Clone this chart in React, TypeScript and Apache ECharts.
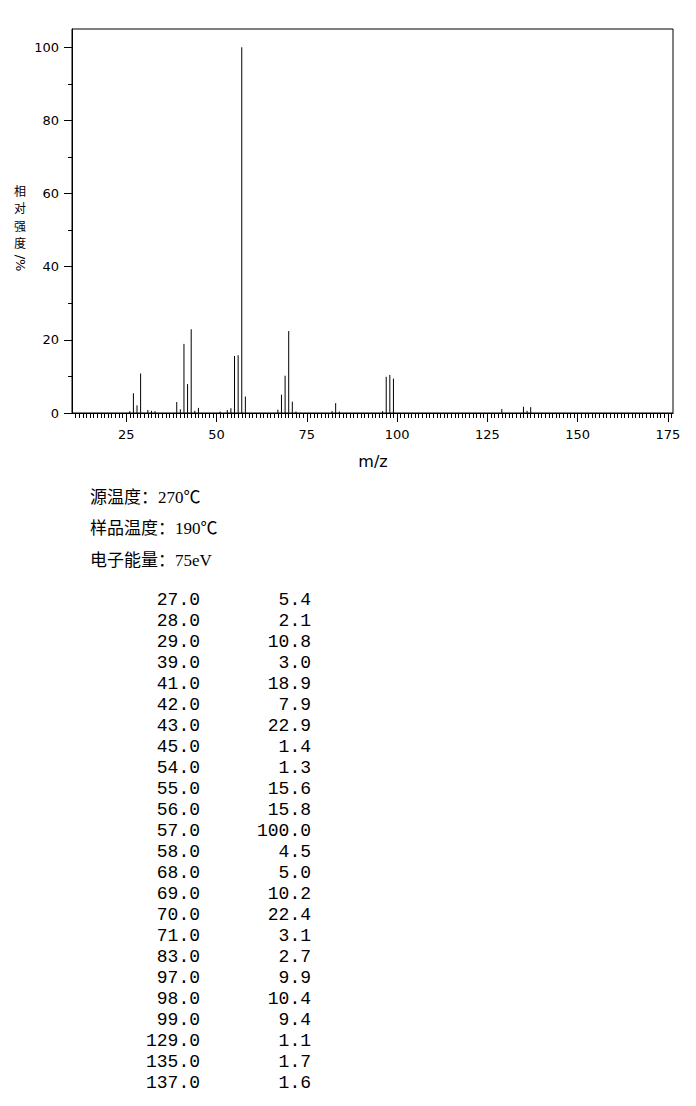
import React, { useEffect, useRef } from "react";
import * as echarts from "echarts";

// Main peaks (m/z, relative intensity %), as listed in the table
const mzValues = [27, 28, 29, 39, 41, 42, 43, 45, 54, 55, 56, 57, 58, 68, 69, 70, 71, 83, 97, 98, 99, 129, 135, 137];
const intensities = [5.4, 2.1, 10.8, 3.0, 18.9, 7.9, 22.9, 1.4, 1.3, 15.6, 15.8, 100.0, 4.5, 5.0, 10.2, 22.4, 3.1, 2.7, 9.9, 10.4, 9.4, 1.1, 1.7, 1.6];

// Small peaks visible in the plot but below the table threshold (estimated)
const minorMz = [26, 31, 32, 33, 40, 44, 51, 53, 67, 72, 82, 84, 96, 136];
const minorIntensities = [0.5, 0.8, 0.6, 0.5, 1.0, 0.6, 0.4, 0.8, 0.9, 0.4, 0.5, 0.4, 0.5, 0.6];

const xTickLabels = [25, 50, 75, 100, 125, 150, 175];
const yTickLabels = [0, 20, 40, 60, 80, 100];
const yMinorTicks = [10, 30, 50, 70, 90];

const infoLines = ["源温度：270℃", "样品温度：190℃", "电子能量：75eV"];
const yAxisTitleChars = ["相", "对", "强", "度"];
const yAxisTitleUnit = "/%";

const X_MIN = 10;
const X_MAX = 176.4;
const Y_MAX = 105;

export default function App() {
  const ref = useRef<HTMLDivElement>(null);

  useEffect(() => {
    if (!ref.current) return;
    const chart = echarts.init(ref.current, null, { renderer: "svg" });

    const xMinorTicks: number[] = [];
    for (let v = 11; v <= 176; v++) xMinorTicks.push(v);

    const peaks: number[][] = [];
    mzValues.forEach((m, i) => peaks.push([m, intensities[i]]));
    minorMz.forEach((m, i) => peaks.push([m, minorIntensities[i]]));

    const axisFont = { fontFamily: "'DejaVu Sans', sans-serif", fontSize: 13, color: "#000" };

    const graphics: any[] = [];
    yAxisTitleChars.forEach((c, i) => {
      graphics.push({
        type: "text",
        x: 20,
        y: 190 + i * 17.6,
        style: { text: c, fontSize: 12, fontFamily: "'Noto Sans CJK SC', sans-serif", fill: "#000", align: "center", verticalAlign: "middle" },
      });
    });
    graphics.push({
      type: "text",
      x: 20,
      y: 263,
      rotation: -Math.PI / 2,
      style: { text: yAxisTitleUnit, fontSize: 13, fontFamily: "'DejaVu Sans', sans-serif", fill: "#000", align: "center", verticalAlign: "middle" },
    });
    graphics.push({
      type: "text",
      x: 373,
      y: 461,
      style: { text: "m/z", fontSize: 16, fontFamily: "'DejaVu Sans', sans-serif", fill: "#000", align: "center", verticalAlign: "middle" },
    });
    infoLines.forEach((t, i) => {
      graphics.push({
        type: "text",
        x: 90,
        y: 497 + i * 31.5,
        style: { text: t, fontSize: 17, fontFamily: "'Liberation Serif', 'Noto Sans CJK SC', serif", fill: "#000", align: "left", verticalAlign: "middle" },
      });
    });
    mzValues.forEach((m, i) => {
      const y = 600 + i * 21;
      graphics.push({
        type: "text",
        x: 200,
        y,
        style: { text: m.toFixed(1), fontSize: 18, fontFamily: "'Liberation Mono', monospace", fill: "#000", align: "right", verticalAlign: "middle" },
      });
      graphics.push({
        type: "text",
        x: 311,
        y,
        style: { text: intensities[i].toFixed(1), fontSize: 18, fontFamily: "'Liberation Mono', monospace", fill: "#000", align: "right", verticalAlign: "middle" },
      });
    });

    chart.setOption({
      animation: false,
      backgroundColor: "#fff",
      grid: {
        left: 72,
        right: 23,
        top: 29,
        bottom: 693,
        show: true,
        borderColor: "#000",
        borderWidth: 1,
        backgroundColor: "transparent",
      },
      xAxis: [
        {
          type: "value",
          min: X_MIN,
          max: X_MAX,
          position: "bottom",
          axisLine: { show: true, lineStyle: { color: "#000", width: 1 } },
          axisTick: { show: true, customValues: xMinorTicks, length: 5, lineStyle: { color: "#000" } },
          axisLabel: { show: true, customValues: xTickLabels, margin: 15, ...axisFont },
          splitLine: { show: false },
        },
        {
          type: "value",
          min: X_MIN,
          max: X_MAX,
          position: "bottom",
          offset: 0,
          axisLine: { show: false },
          axisTick: { show: true, customValues: xTickLabels, length: 9, lineStyle: { color: "#000" } },
          axisLabel: { show: false },
          splitLine: { show: false },
        },
      ],
      yAxis: [
        {
          type: "value",
          min: 0,
          max: Y_MAX,
          position: "left",
          axisLine: { show: true, lineStyle: { color: "#000", width: 1 } },
          axisTick: { show: true, customValues: yTickLabels, length: 8, lineStyle: { color: "#000" } },
          axisLabel: { show: true, customValues: yTickLabels, margin: 13, ...axisFont },
          splitLine: { show: false },
        },
        {
          type: "value",
          min: 0,
          max: Y_MAX,
          position: "left",
          offset: 0,
          axisLine: { show: false },
          axisTick: { show: true, customValues: yMinorTicks, length: 4, lineStyle: { color: "#000" } },
          axisLabel: { show: false },
          splitLine: { show: false },
        },
      ],
      series: [
        {
          type: "custom",
          xAxisIndex: 0,
          yAxisIndex: 0,
          data: peaks,
          renderItem: (params: any, api: any) => {
            const x = api.value(0);
            const y = api.value(1);
            const p0 = api.coord([x, 0]);
            const p1 = api.coord([x, y]);
            return {
              type: "line",
              shape: { x1: p0[0], y1: p0[1], x2: p1[0], y2: p1[1] },
              style: { stroke: "#000", lineWidth: 1 },
            };
          },
        },
      ],
      graphic: graphics,
    });

    return () => chart.dispose();
  }, []);

  return (
    <div
      ref={ref}
      style={{ position: "absolute", left: 0, top: 0, width: 696, height: 1106 }}
    />
  );
}
